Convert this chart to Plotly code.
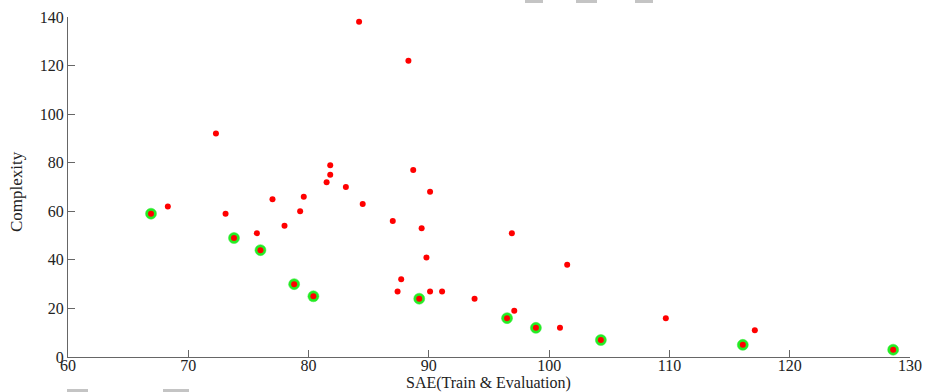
import plotly.graph_objects as go

# Pareto-front points (green halo)
pareto_sae = [66.9, 73.8, 76.0, 78.8, 80.4, 89.2, 96.5, 98.9, 104.3, 116.1, 128.6]
pareto_cx = [59, 49, 44, 30, 25, 24, 16, 12, 7, 5, 3]

# Other candidate points (red only)
other_sae = [84.2, 88.3, 72.3, 68.3, 73.1, 77.0, 79.6, 79.3, 78.0, 75.7,
             81.8, 81.8, 81.5, 83.1, 88.7, 90.1, 84.5, 87.0, 89.4, 96.9,
             89.8, 101.5, 87.7, 87.4, 90.1, 91.1, 93.8, 97.1, 100.9, 109.7, 117.1]
other_cx = [138, 122, 92, 62, 59, 65, 66, 60, 54, 51,
            79, 75, 72, 70, 77, 68, 63, 56, 53, 51,
            41, 38, 32, 27, 27, 27, 24, 19, 12, 16, 11]

x_ticks = [60, 70, 80, 90, 100, 110, 120, 130]
y_ticks = [0, 20, 40, 60, 80, 100, 120, 140]

FONT = "Liberation Serif"

fig = go.Figure()
fig.add_trace(go.Scatter(
    x=pareto_sae, y=pareto_cx, mode="markers",
    marker=dict(symbol="circle", size=11, color="#22ee22",
                line=dict(width=1, color="rgba(60,230,60,0.5)")),
    hoverinfo="x+y", showlegend=False, cliponaxis=False))
fig.add_trace(go.Scatter(
    x=pareto_sae + other_sae, y=pareto_cx + other_cx, mode="markers",
    marker=dict(symbol="circle", size=6, color="#ff0000", line=dict(width=0)),
    hoverinfo="x+y", showlegend=False, cliponaxis=False))

W, H, L, R, T, B = 928, 392, 68, 18, 17, 35
pw, ph = W - L - R, H - T - B


def px_x(x):
    return (x - L) / pw


def px_y(y):
    return (H - B - y) / ph


def px_rect(x0, x1, y0, y1):
    return dict(type="rect", xref="paper", yref="paper",
                x0=px_x(x0), x1=px_x(x1), y0=px_y(y1), y1=px_y(y0),
                fillcolor="#c4c4c4", line=dict(width=0), layer="above")


shapes = [px_rect(525, 543, -2, 3), px_rect(576, 597, -2, 3), px_rect(635, 653, -2, 3),
          px_rect(67, 88, 389, 394), px_rect(163, 189, 389, 394)]

annotations = [
    dict(text="SAE(Train &amp; Evaluation)", xref="paper", yref="paper",
         x=px_x(488), y=px_y(383), xanchor="center", yanchor="middle",
         showarrow=False, font=dict(family=FONT, size=16, color="#222222")),
    dict(text="Complexity", xref="paper", yref="paper",
         x=px_x(17), y=px_y(192), xanchor="center", yanchor="middle", textangle=-90,
         showarrow=False, font=dict(family=FONT, size=17, color="#222222")),
]

axis_common = dict(showgrid=False, zeroline=False, showline=True, linecolor="#666666",
                   linewidth=1, ticks="inside", ticklen=7, tickcolor="#666666",
                   automargin=False,
                   tickfont=dict(family=FONT, size=16, color="#222222"))

fig.update_layout(
    width=W, height=H,
    margin=dict(l=L, r=R, t=T, b=B),
    paper_bgcolor="white", plot_bgcolor="white",
    shapes=shapes, annotations=annotations,
    xaxis=dict(range=[60, 130], tickvals=x_ticks, ticktext=[str(v) for v in x_ticks],
               ticklabelstandoff=-6, **axis_common),
    yaxis=dict(range=[0, 140], tickvals=y_ticks, ticktext=[str(v) for v in y_ticks],
               **axis_common),
)

fig.write_html("out.html", config={"displayModeBar": False},
               post_script="document.body.style.margin='0';document.body.style.padding='0';")
